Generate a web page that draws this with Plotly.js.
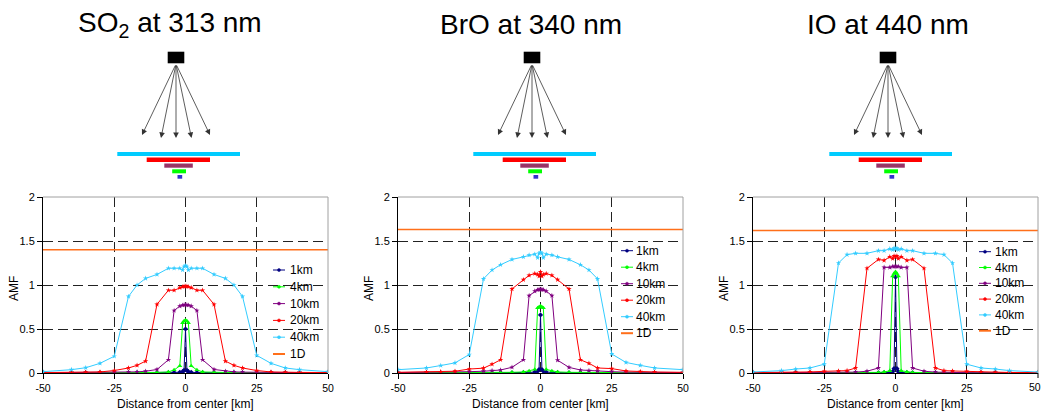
<!DOCTYPE html>
<html><head><meta charset="utf-8">
<script src="https://cdn.plot.ly/plotly-3.0.1.min.js"></script>
<style>html,body{margin:0;padding:0;background:#fff;overflow:hidden;width:1044px;height:413px;} #chart{width:1044px;height:413px;}</style>
</head><body><div id="chart"></div>
<script>
// ---------- DATA ----------
const distance = [-50,-40,-35,-30,-25,-20,-17,-14,-10,-6,-4,-2,-1,-0.5,0,0.5,1,2,4,6,10,14,17,20,25,30,35,40,50];
const seriesNames = ['1km','4km','10km','20km','40km','1D'];
const panelTitles = ['SO<sub>2</sub> at 313 nm','BrO at 340 nm','IO at 440 nm'];
const xTickVals = [-50,-25,0,25,50];
const xTickText = ['-50','-25','0','25','50'];
const yTickVals = [0,0.5,1,1.5,2];
const yTickText = ['0','0.5','1','1.5','2'];
const oneD_x = [-50, 50];

// SO2 at 313 nm
const so2_1km  = [0.001,0.001,0.001,0.001,0.001,0.002,0.002,0.002,0.003,0.004,0.005,0.008,0.015,0.03,0.50,0.03,0.015,0.008,0.005,0.004,0.003,0.002,0.002,0.002,0.001,0.001,0.001,0.001,0.001];
const so2_4km  = [0.002,0.002,0.002,0.003,0.003,0.004,0.004,0.005,0.006,0.012,0.035,0.08,0.57,0.59,0.60,0.59,0.57,0.08,0.035,0.012,0.006,0.005,0.004,0.004,0.003,0.003,0.002,0.002,0.002];
const so2_10km = [0.003,0.004,0.004,0.005,0.007,0.010,0.013,0.020,0.040,0.15,0.71,0.76,0.77,0.775,0.775,0.775,0.77,0.76,0.71,0.15,0.040,0.020,0.013,0.010,0.007,0.005,0.004,0.004,0.003];
const so2_20km = [0.005,0.007,0.008,0.012,0.028,0.057,0.087,0.135,0.78,0.94,0.94,0.97,0.98,0.985,0.985,0.985,0.98,0.97,0.94,0.94,0.78,0.135,0.087,0.057,0.028,0.012,0.008,0.007,0.005];
const so2_40km = [0.015,0.038,0.06,0.11,0.19,0.87,1.00,1.075,1.12,1.19,1.19,1.19,1.17,1.21,1.22,1.21,1.17,1.19,1.19,1.19,1.12,1.075,1.00,0.87,0.20,0.11,0.057,0.038,0.015];
const so2_1D   = [1.40, 1.40];

// BrO at 340 nm
const bro_1km  = [0.001,0.001,0.001,0.001,0.002,0.002,0.002,0.003,0.003,0.004,0.006,0.010,0.020,0.040,0.66,0.040,0.020,0.010,0.006,0.004,0.003,0.003,0.002,0.002,0.002,0.001,0.001,0.001,0.001];
const bro_4km  = [0.003,0.003,0.003,0.004,0.004,0.005,0.006,0.006,0.008,0.012,0.022,0.040,0.74,0.75,0.76,0.75,0.74,0.040,0.022,0.012,0.008,0.006,0.006,0.005,0.004,0.004,0.003,0.003,0.003];
const bro_10km = [0.005,0.006,0.008,0.010,0.015,0.020,0.027,0.034,0.065,0.15,0.88,0.93,0.945,0.95,0.95,0.95,0.945,0.93,0.88,0.145,0.064,0.034,0.027,0.020,0.015,0.010,0.008,0.006,0.005];
const bro_20km = [0.008,0.010,0.013,0.020,0.045,0.055,0.10,0.15,0.955,1.06,1.11,1.13,1.12,1.10,1.15,1.10,1.12,1.13,1.11,1.06,0.955,0.15,0.11,0.057,0.05,0.023,0.015,0.011,0.008];
const bro_40km = [0.038,0.057,0.085,0.115,0.21,1.07,1.17,1.23,1.29,1.32,1.34,1.35,1.31,1.36,1.37,1.36,1.31,1.35,1.34,1.32,1.29,1.23,1.17,1.07,0.216,0.12,0.087,0.057,0.038];
const bro_1D   = [1.63, 1.63];

// IO at 440 nm
const io_1km  = [0.001,0.001,0.001,0.001,0.001,0.001,0.002,0.002,0.002,0.003,0.004,0.006,0.015,0.05,1.09,0.05,0.015,0.006,0.004,0.003,0.002,0.002,0.002,0.001,0.001,0.001,0.001,0.001,0.001];
const io_4km  = [0.001,0.001,0.002,0.002,0.002,0.003,0.003,0.004,0.005,0.007,0.012,0.025,1.10,1.13,1.15,1.13,1.10,0.025,0.012,0.007,0.005,0.004,0.003,0.003,0.002,0.002,0.002,0.001,0.001];
const io_10km = [0.002,0.002,0.003,0.003,0.004,0.005,0.007,0.010,0.020,0.057,1.20,1.20,1.21,1.21,1.21,1.21,1.21,1.20,1.20,0.057,0.020,0.010,0.007,0.005,0.004,0.003,0.003,0.002,0.002];
const io_20km = [0.005,0.006,0.008,0.012,0.019,0.023,0.027,0.057,1.19,1.29,1.28,1.32,1.30,1.33,1.32,1.33,1.30,1.32,1.28,1.29,1.19,0.057,0.027,0.023,0.019,0.012,0.008,0.006,0.005];
const io_40km = [0.011,0.027,0.045,0.057,0.10,1.25,1.345,1.36,1.36,1.39,1.39,1.41,1.40,1.42,1.41,1.42,1.40,1.41,1.39,1.39,1.36,1.36,1.345,1.25,0.10,0.057,0.045,0.027,0.011];
const io_1D   = [1.62, 1.62];

// ---------- STYLE / LAYOUT ----------
const W = 1044, H = 413;
const FONT = 'Liberation Sans, Arial, sans-serif';
const colors = ['#000080','#00FF00','#800080','#FF0000','#33CCFF','#FF6F1A'];
const symbols = ['diamond','triangle-up','star','star','star'];
const msizes = [4, 4.5, 4, 4, 4];
const px = x => x / W;
const py = y => 1 - y / H;

const panels = [
  {series:[so2_1km,so2_4km,so2_10km,so2_20km,so2_40km], oneD: so2_1D, left:43, titleX:170, cx:176,
   leg:{lx:273, tx:288, y0:270, dy:16.8}},
  {series:[bro_1km,bro_4km,bro_10km,bro_20km,bro_40km], oneD: bro_1D, left:398, titleX:531, cx:532,
   leg:{lx:621, tx:634, y0:250.7, dy:16.5}},
  {series:[io_1km,io_4km,io_10km,io_20km,io_40km], oneD: io_1D, left:753, titleX:888, cx:888,
   leg:{lx:979, tx:993, y0:251.7, dy:15.8}}
];
const plotW = 285, plotTop = 197, plotBot = 373;
const TICKSIZE = 10.5;

const traces = [];
const layout = {
  width: W, height: H, autosize: false,
  margin: {l:0, r:0, t:0, b:0, pad:0},
  paper_bgcolor: '#fff', plot_bgcolor: '#fff',
  showlegend: false,
  font: {family: FONT, color: '#000'},
  shapes: [], annotations: []
};

// diagram pieces (pixels relative to detector centre)
const diagBars = [
  {c:'#00CCFF', x0:-58.7, x1:64.0, y0:152.0, y1:156.0},
  {c:'#FF0000', x0:-29.3, x1:34.0, y0:157.5, y1:162.0},
  {c:'#993366', x0:-11.7, x1:16.8, y0:163.5, y1:167.7},
  {c:'#00FF00', x0:-3.8,  x1:10.0, y0:169.3, y1:173.3},
  {c:'#3333CC', x0:1.5,   x1:6.2,  y0:175.0, y1:178.7}
];
const arrowTips = [{dx:-34,y:135},{dx:-15,y:138},{dx:0,y:138},{dx:15.5,y:138},{dx:34,y:135}];

panels.forEach((p, i) => {
  const sfx = i === 0 ? '' : String(i + 1);
  const xa = 'x' + sfx, ya = 'y' + sfx;
  const lastPanel = i === panels.length - 1;
  p.series.forEach((vals, s) => {
    traces.push({
      x: distance, y: vals, xaxis: xa, yaxis: ya, name: seriesNames[s],
      type: 'scatter', mode: 'lines+markers',
      line: {color: colors[s], width: 1},
      marker: {symbol: symbols[s], size: msizes[s], color: colors[s]},
      hoverinfo: 'x+y+name'
    });
  });
  traces.push({
    x: oneD_x, y: p.oneD, xaxis: xa, yaxis: ya, name: seriesNames[5],
    type: 'scatter', mode: 'lines', line: {color: colors[5], width: 1.5}
  });

  const common = {
    showgrid: true, gridcolor: '#222', griddash: '10px,5px', gridwidth: 1,
    zeroline: false, showline: true, linecolor: '#000', linewidth: 1,
    ticks: 'outside', ticklen: 5, tickcolor: '#000', tickwidth: 1,
    ticklabeloverflow: 'allow',
    tickfont: {family: FONT, size: TICKSIZE, color: '#000'}, fixedrange: true
  };
  const lastVals = lastPanel ? xTickVals.slice(0, -1) : xTickVals;
  const lastText = lastPanel ? xTickText.slice(0, -1) : xTickText;
  layout['xaxis' + sfx] = Object.assign({}, common, {
    domain: [px(p.left), px(p.left + plotW)], anchor: ya,
    range: [-50, 50], tickmode: 'array', tickvals: lastVals, ticktext: lastText
  });
  layout['yaxis' + sfx] = Object.assign({}, common, {
    domain: [py(plotBot), py(plotTop)], anchor: xa,
    range: [0, 2], tickmode: 'array', tickvals: yTickVals, ticktext: yTickText,
    tickfont: {family: FONT, size: 11, color: '#000'}
  });
  if (lastPanel) {
    // edge label of the right-most panel, right-aligned to the page edge
    layout.annotations.push({text: xTickText[xTickText.length - 1], xref:'paper', yref:'paper',
      x: 1, y: py(386.5), xanchor:'right', yanchor:'middle', xshift: -1,
      showarrow:false, font:{family: FONT, size: TICKSIZE, color:'#000'}});
    layout.shapes.push({type:'line', xref: xa + ' domain', yref:'paper', x0:1, x1:1,
      y0: py(plotBot), y1: py(plotBot + 5), line:{color:'#000', width:1}});
  }

  // gray top / right border
  layout.shapes.push({type:'line', xref: xa + ' domain', yref: ya + ' domain', x0:0, x1:1, y0:1, y1:1,
                      line:{color:'#A0A0A0', width:1}, layer:'above'});
  layout.shapes.push({type:'line', xref: xa + ' domain', yref: ya + ' domain', x0:1, x1:1, y0:0, y1:1,
                      line:{color:'#A0A0A0', width:1}, layer:'above'});

  // panel title
  layout.annotations.push({text: panelTitles[i], xref:'paper', yref:'paper', x: px(p.titleX), y: py(25),
    xanchor:'center', yanchor:'middle', showarrow:false, font:{family: FONT, size: 28, color:'#000'}});
  // axis titles
  layout.annotations.push({text: 'AMF', xref:'paper', yref:'paper', x: px(p.left - 29), y: py(289),
    xanchor:'center', yanchor:'middle', textangle:-90, showarrow:false, font:{family: FONT, size: 12, color:'#000'}});
  layout.annotations.push({text: 'Distance from center [km]', xref:'paper', yref:'paper', x: px(p.left + plotW/2), y: py(404),
    xanchor:'center', yanchor:'middle', showarrow:false, font:{family: FONT, size: 12, color:'#000'}});

  // legend (manual)
  seriesNames.forEach((nm, s) => {
    const yy = p.leg.y0 + s * p.leg.dy;
    layout.shapes.push({type:'line', xref:'paper', yref:'paper', x0: px(p.leg.lx), x1: px(p.leg.lx + 12),
      y0: py(yy), y1: py(yy), line:{color: colors[s], width: s === 5 ? 2 : 1}});
    if (s < 5) {
      layout.shapes.push({type:'circle', xref:'paper', yref:'paper', x0: px(p.leg.lx + 4.5), x1: px(p.leg.lx + 7.5),
        y0: py(yy + 1.5), y1: py(yy - 1.5), fillcolor: colors[s], line:{color: colors[s], width: 0.5}});
    }
    layout.annotations.push({text: nm, xref:'paper', yref:'paper', x: px(p.leg.tx), y: py(yy),
      xanchor:'left', yanchor:'middle', showarrow:false, font:{family: FONT, size: 12, color:'#000'}});
  });

  // viewing-geometry diagram
  const cx = p.cx;
  layout.shapes.push({type:'rect', xref:'paper', yref:'paper', x0: px(cx - 8.3), x1: px(cx + 8.3),
    y0: py(63.3), y1: py(51.7), fillcolor:'#000', line:{width:0}});
  arrowTips.forEach(a => {
    layout.annotations.push({text:'', xref:'paper', yref:'paper', x: px(cx + a.dx), y: py(a.y),
      axref:'pixel', ayref:'pixel', ax: -a.dx, ay: 64 - a.y, showarrow:true,
      arrowhead: 2, arrowsize: 1.4, arrowwidth: 0.8, arrowcolor:'#333', standoff: 0});
  });
  diagBars.forEach(b => {
    layout.shapes.push({type:'rect', xref:'paper', yref:'paper', x0: px(cx + b.x0), x1: px(cx + b.x1),
      y0: py(b.y1), y1: py(b.y0), fillcolor: b.c, line:{width:0}});
  });
});

Plotly.newPlot('chart', traces, layout, {displayModeBar: false, staticPlot: true});
</script></body></html>
